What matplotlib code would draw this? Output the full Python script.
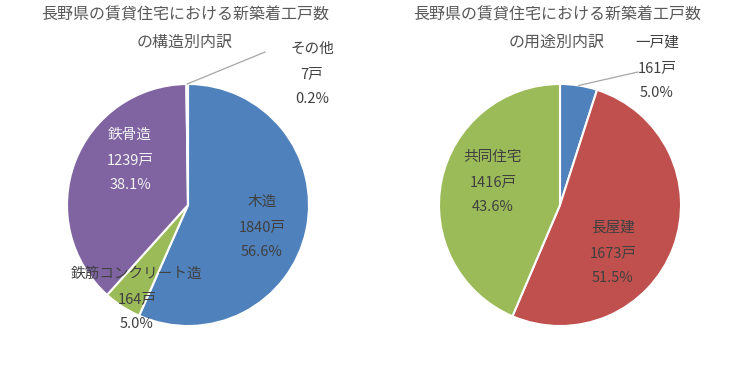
import matplotlib
matplotlib.use("Agg")
import matplotlib.pyplot as plt
import numpy as np

plt.rcParams['font.family'] = ['Noto Sans CJK JP', 'DejaVu Sans']

# 構造別
kozo_names = ['木造', '鉄筋コンクリート造', '鉄骨造', 'その他']
kozo_values = [1840, 164, 1239, 7]
kozo_pct = ['56.6%', '5.0%', '38.1%', '0.2%']
kozo_colors = ['#4F81BD', '#9BBB59', '#8064A2', '#4BACC6']

# 用途別
yoto_names = ['一戸建', '長屋建', '共同住宅']
yoto_values = [161, 1673, 1416]
yoto_pct = ['5.0%', '51.5%', '43.6%']
yoto_colors = ['#4F81BD', '#C0504D', '#9BBB59']

W, H = 738, 365
def py(y):
    return H - y

fig = plt.figure(figsize=(7.38, 3.65), dpi=100)
ax = fig.add_axes([0, 0, 1, 1])

R = 121
c1 = (188, py(205))
c2 = (560, py(205))

w1, _ = ax.pie(kozo_values, colors=kozo_colors, startangle=90, counterclock=False,
               center=c1, radius=R, wedgeprops=dict(edgecolor='white', linewidth=1.5))
w2, _ = ax.pie(yoto_values, colors=yoto_colors, startangle=90, counterclock=False,
               center=c2, radius=R, wedgeprops=dict(edgecolor='white', linewidth=1.5))

ax.set_xlim(0, W)
ax.set_ylim(0, H)
ax.set_aspect('equal')
ax.axis('off')

tc = '#595959'
lc = '#404040'
title = '長野県の賃貸住宅における新築着工戸数'
ax.text(185, py(15), title, ha='center', va='center', fontsize=11.5, color=tc)
ax.text(185, py(42), 'の構造別内訳', ha='center', va='center', fontsize=11.5, color=tc)
ax.text(557, py(15), title, ha='center', va='center', fontsize=11.5, color=tc)
ax.text(557, py(42), 'の用途別内訳', ha='center', va='center', fontsize=11.5, color=tc)

# label positions (center of the middle line), pixel coords
kozo_pos = [(262, 227), (137, 299), (130, 160), (312, 74)]
kozo_tc = [lc, lc, '#F2F2F2', lc]
yoto_pos = [(657, 68), (613, 253), (493, 182)]
yoto_tc = [lc, lc, lc]

def labels(names, vals, pcts, pos, cols):
    for n, v, p, (x, y), c in zip(names, vals, pcts, pos, cols):
        ax.text(x, py(y - 25), n, ha='center', va='center', fontsize=10.5, color=c)
        ax.text(x, py(y), f'{v}戸', ha='center', va='center', fontsize=10.5, color=c)
        ax.text(x, py(y + 25), p, ha='center', va='center', fontsize=10.5, color=c)

labels(kozo_names, kozo_values, kozo_pct, kozo_pos, kozo_tc)
labels(yoto_names, yoto_values, yoto_pct, yoto_pos, yoto_tc)

# leader lines from wedge rim
def leader(wedge, center, end):
    th = np.deg2rad((wedge.theta1 + wedge.theta2) / 2)
    x0 = center[0] + R * np.cos(th)
    y0 = center[1] + R * np.sin(th)
    ax.plot([x0, end[0]], [y0, py(end[1])], color='#A6A6A6', lw=0.9)

leader(w1[3], c1, (265, 52))
leader(w2[0], c2, (638, 72))

fig.savefig('out.png', dpi=100)
